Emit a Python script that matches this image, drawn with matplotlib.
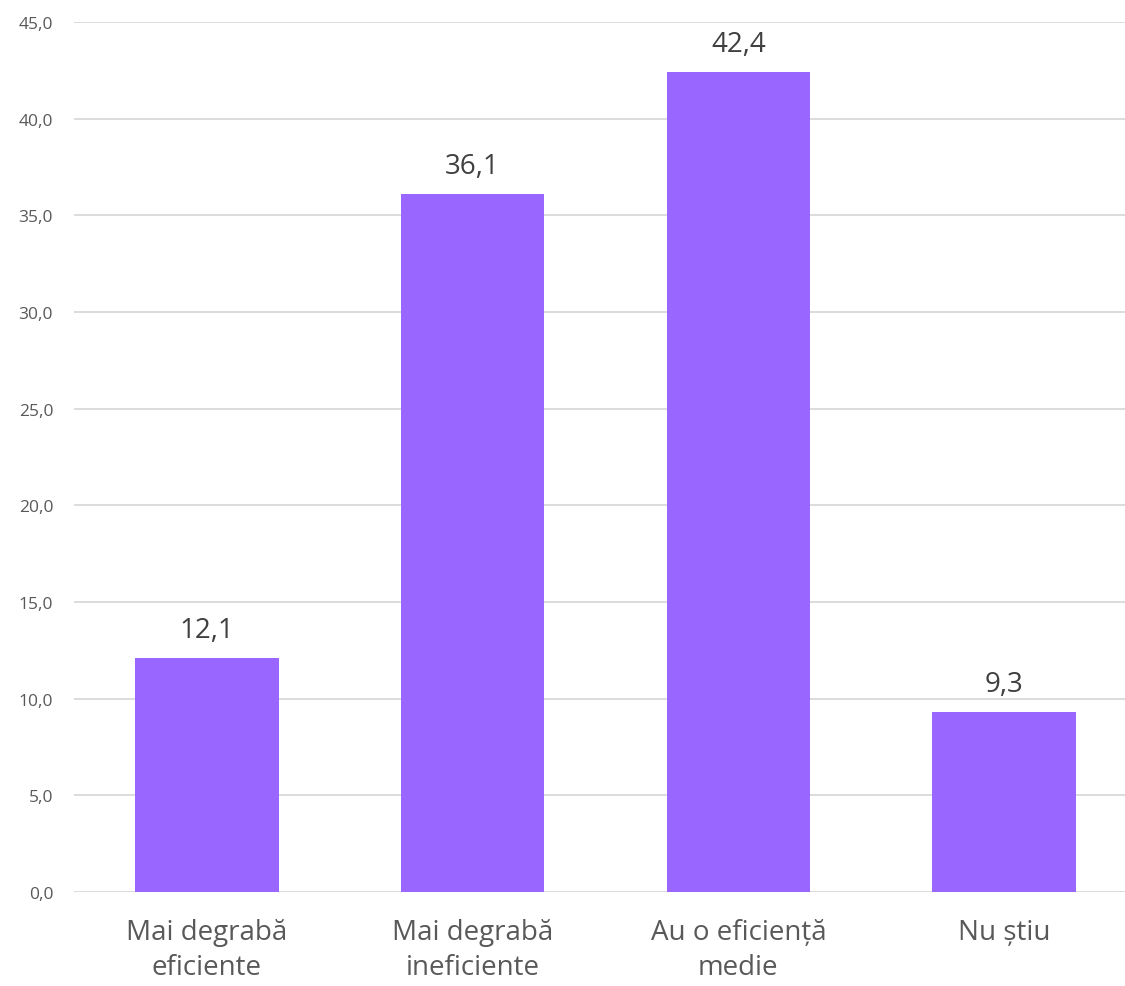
import matplotlib
matplotlib.use("Agg")
import matplotlib.pyplot as plt
from matplotlib.ticker import FuncFormatter

categories = ["Mai degrabă\neficiente", "Mai degrabă\nineficiente", "Au o eficiență\nmedie", "Nu știu"]
values = [12.1, 36.1, 42.4, 9.3]
yticks = [0, 5, 10, 15, 20, 25, 30, 35, 40, 45]

plt.rcParams['font.family'] = ['Open Sans', 'DejaVu Sans']

fig = plt.figure(figsize=(11.25, 9.87), dpi=100)
ax = fig.add_axes([74 / 1125, 1 - 893 / 987, 1 - 74 / 1125, (893 - 23) / 987])

x = list(range(len(categories)))
bars = ax.bar(x, values, width=0.54, color="#9966FF", zorder=3)

for b, v in zip(bars, values):
    ax.annotate(f"{v:.1f}".replace(".", ","), (b.get_x() + b.get_width() / 2, v),
                xytext=(0, 10), textcoords="offset points", ha="center", va="bottom",
                fontsize=20, color="#404040")

ax.set_xlim(-0.5, 3.455)
ax.set_ylim(0, 45)
ax.set_yticks(yticks)
ax.yaxis.set_major_formatter(FuncFormatter(lambda v, p: f"{v:.1f}".replace(".", ",")))
ax.set_xticks(x)
ax.set_xticklabels(categories, fontsize=20, color="#595959", linespacing=1.3)
ax.tick_params(axis="y", labelsize=12.5, labelcolor="#595959", length=0, pad=15)
ax.tick_params(axis="x", length=0, pad=19)
ax.grid(axis="y", color="#D9D9D9", linewidth=1.3, zorder=0)
for s in ax.spines.values():
    s.set_visible(False)

fig.savefig("out.png", dpi=100)
